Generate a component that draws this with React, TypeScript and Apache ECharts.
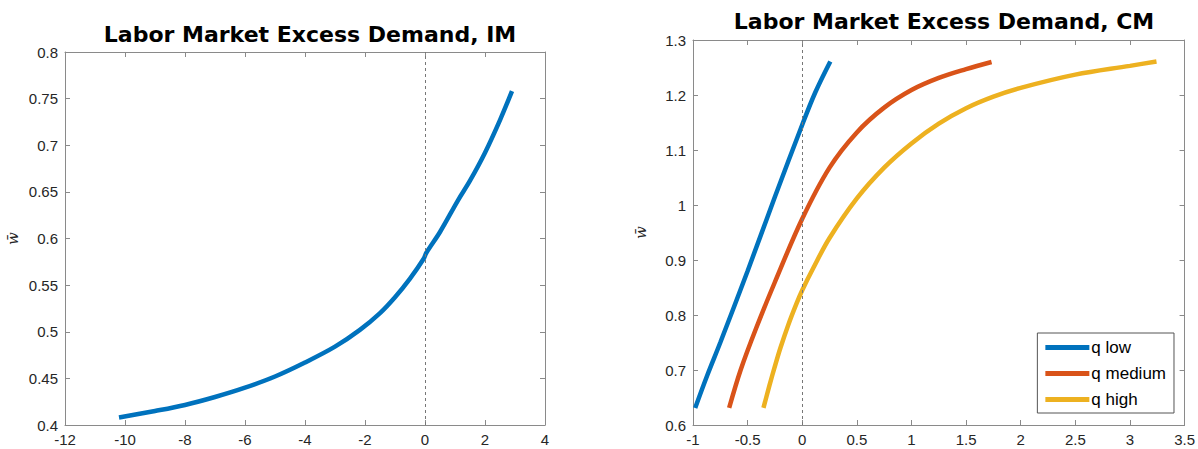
import React, { useEffect, useRef } from "react";
import * as echarts from "echarts";

const imX = [-10.2, -9, -8, -7, -6, -5, -4, -3, -2.17, -1.5, -1, -0.5, -0.05, 0.05, 0.5, 1.1, 1.5, 2, 2.5, 2.9];
const imY = [0.408, 0.415, 0.4215, 0.43, 0.44, 0.452, 0.467, 0.484, 0.502, 0.52, 0.537, 0.557, 0.578, 0.585, 0.607, 0.641, 0.662, 0.692, 0.727, 0.758];

const lowX = [-0.98, -0.87, -0.75, -0.5, -0.25, 0, 0.12, 0.257];
const lowY = [0.631, 0.69, 0.75, 0.88, 1.015, 1.146, 1.205, 1.261];

const medX = [-0.669, -0.564, -0.424, -0.25, 0, 0.25, 0.5, 0.75, 1, 1.25, 1.5, 1.733];
const medY = [0.631, 0.7, 0.775, 0.86, 0.975, 1.068, 1.132, 1.177, 1.209, 1.231, 1.247, 1.26];

const highX = [-0.355, -0.3, -0.25, -0.2, -0.128, -0.05, 0, 0.1, 0.25, 0.5, 0.75, 1, 1.25, 1.5, 1.75, 2, 2.5, 3, 3.243];
const highY = [0.631, 0.672, 0.707, 0.74, 0.782, 0.822, 0.845, 0.885, 0.94, 1.012, 1.068, 1.112, 1.148, 1.176, 1.197, 1.213, 1.237, 1.253, 1.261];

const seriesNames = ["q low", "q medium", "q high"];
const titles = ["Labor Market Excess Demand, IM", "Labor Market Excess Demand, CM"];
const yName = "w\u0304";

const colors = ["#0072BD", "#D95319", "#EDB120"];
const axisColor = "#8a8a8a";
const labelColor = "#262626";
const font = "Liberation Sans, Arial, sans-serif";
const titleFont = "DejaVu Sans, sans-serif";

const zip = (xs: number[], ys: number[]) => xs.map((x, i) => [x, ys[i]]);

export default function App() {
  const ref = useRef<HTMLDivElement>(null);
  useEffect(() => {
    if (!ref.current) return;
    const chart = echarts.init(ref.current, undefined, { renderer: "svg" });

    const baseAxis = (gridIndex: number, min: number, max: number, interval: number, position: string, labels: boolean, extra: any = {}) => ({
      type: "value",
      gridIndex,
      min,
      max,
      interval,
      position,
      splitLine: { show: false },
      axisLine: { show: true, onZero: false, lineStyle: { color: axisColor, width: 1 } },
      axisTick: { show: true, inside: true, length: 5, lineStyle: { color: axisColor } },
      axisLabel: { show: labels, color: labelColor, fontSize: 15, fontFamily: font, margin: 7 },
      ...extra,
    });

    const yNameCfg = {
      name: yName,
      nameLocation: "middle",
      nameGap: 45,
      nameRotate: 90,
      nameTextStyle: { fontFamily: "DejaVu Serif, serif", fontStyle: "italic", fontSize: 15, color: labelColor },
    };

    const markZero = {
      silent: true,
      symbol: "none",
      label: { show: false },
      lineStyle: { type: [3, 3], color: "#777", width: 1 },
      data: [{ xAxis: 0 }],
    };

    const lineSeries = (name: string | undefined, data: number[][], color: string, xi: number, yi: number, mark?: any) => ({
      type: "line",
      name,
      data,
      xAxisIndex: xi,
      yAxisIndex: yi,
      showSymbol: false,
      smooth: 0.35,
      lineStyle: { color, width: 4.5 },
      itemStyle: { color },
      markLine: mark,
      z: 3,
    });

    chart.setOption({
      animation: false,
      backgroundColor: "#ffffff",
      title: [
        {
          text: titles[0],
          left: 305,
          textAlign: "center",
          top: 18,
          textStyle: { fontFamily: titleFont, fontWeight: "bold", fontSize: 22, color: "#000" },
        },
        {
          text: titles[1],
          left: 939,
          textAlign: "center",
          top: 5,
          textStyle: { fontFamily: titleFont, fontWeight: "bold", fontSize: 22, color: "#000" },
        },
      ],
      grid: [
        { left: 65, top: 52, width: 480, height: 373, containLabel: false, show: false },
        { left: 693, top: 40, width: 492, height: 385, containLabel: false, show: false },
      ],
      xAxis: [
        baseAxis(0, -12, 4, 2, "bottom", true),
        baseAxis(0, -12, 4, 2, "top", false),
        baseAxis(1, -1, 3.5, 0.5, "bottom", true),
        baseAxis(1, -1, 3.5, 0.5, "top", false),
      ],
      yAxis: [
        baseAxis(0, 0.4, 0.8, 0.05, "left", true, yNameCfg),
        baseAxis(0, 0.4, 0.8, 0.05, "right", false),
        baseAxis(1, 0.6, 1.3, 0.1, "left", true, yNameCfg),
        baseAxis(1, 0.6, 1.3, 0.1, "right", false),
      ],
      legend: {
        data: seriesNames,
        orient: "vertical",
        right: 24,
        bottom: 36,
        itemWidth: 44,
        itemHeight: 5,
        itemGap: 9,
        icon: "rect",
        padding: [6, 8, 5, 8],
        backgroundColor: "#ffffff",
        borderColor: "#555",
        borderWidth: 1,
        borderRadius: 0,
        textStyle: { fontFamily: font, fontSize: 17, color: "#000", padding: [0, 0, 0, -3] },
      },
      series: [
        lineSeries(undefined, zip(imX, imY), colors[0], 0, 0, markZero),
        lineSeries(seriesNames[0], zip(lowX, lowY), colors[0], 2, 2, markZero),
        lineSeries(seriesNames[1], zip(medX, medY), colors[1], 2, 2),
        lineSeries(seriesNames[2], zip(highX, highY), colors[2], 2, 2),
      ],
    });
    return () => chart.dispose();
  }, []);
  return <div ref={ref} style={{ position: "fixed", left: 0, top: 0, width: 1198, height: 449 }} />;
}
